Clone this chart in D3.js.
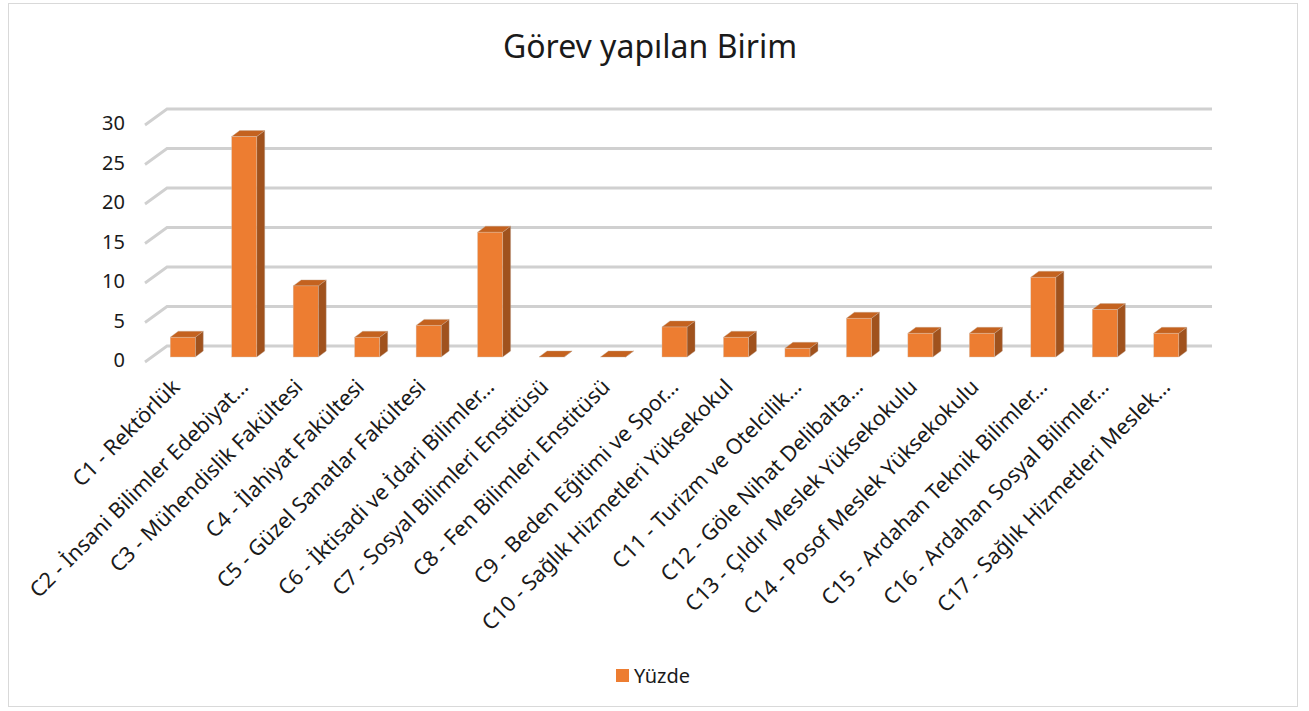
<!DOCTYPE html>
<html>
<head>
<meta charset="utf-8">
<script src="https://cdn.jsdelivr.net/npm/d3@7"></script>
<style>
  body { margin: 0; background: #fff; }
  svg { display: block; }
</style>
</head>
<body>
<script>
const categories = [
  "C1 - Rektörlük",
  "C2 - İnsani Bilimler Edebiyat…",
  "C3 - Mühendislik Fakültesi",
  "C4 - İlahiyat Fakültesi",
  "C5 - Güzel Sanatlar Fakültesi",
  "C6 - İktisadi ve İdari Bilimler…",
  "C7 - Sosyal Bilimleri Enstitüsü",
  "C8 - Fen Bilimleri Enstitüsü",
  "C9 - Beden Eğitimi ve Spor…",
  "C10 - Sağlık Hizmetleri Yüksekokul",
  "C11 - Turizm ve Otelcilik…",
  "C12 - Göle Nihat Delibalta…",
  "C13 - Çıldır Meslek Yüksekokulu",
  "C14 - Posof Meslek Yüksekokulu",
  "C15 - Ardahan Teknik Bilimler…",
  "C16 - Ardahan Sosyal Bilimler…",
  "C17 - Sağlık Hizmetleri Meslek…"
];
const yuzde = [2.5, 27.9, 9, 2.5, 4, 15.8, 0, 0, 3.8, 2.5, 1.1, 4.9, 3, 3, 10.1, 6, 3];
const yTicks = [0, 5, 10, 15, 20, 25, 30];
const seriesName = "Yüzde";
const title = "Görev yapılan Birim";

const width = 1309, height = 711;
const font = "'Noto Sans', 'Open Sans', sans-serif";

// oblique 3D: front plane, depth of floor, depth of bars
const depth = [22, -16];
const barPlane = [7, -5];
const barDepth = [8, -6];

const x = d3.scaleBand()
    .domain(categories)
    .range([145, 1190])
    .paddingInner(0.593)
    .paddingOuter(0.2965);

const y = d3.scaleLinear()
    .domain([0, 30])
    .range([362, 125]);

const svg = d3.select("body").append("svg")
    .attr("width", width)
    .attr("height", height)
    .attr("viewBox", [0, 0, width, height]);

svg.append("rect")
    .attr("x", 8.5).attr("y", 3.5)
    .attr("width", 1289).attr("height", 703)
    .attr("fill", "#fff")
    .attr("stroke", "#d9d9d9");

svg.append("text")
    .attr("x", 650).attr("y", 58)
    .attr("text-anchor", "middle")
    .style("font", `32px ${font}`)
    .attr("fill", "#1a1a1a")
    .text(title);

// gridlines: diagonal on the side wall then along the back wall
svg.append("g")
    .attr("fill", "none")
    .attr("stroke", "#d0d0d0")
    .attr("stroke-width", 2.8)
  .selectAll("path")
  .data(yTicks)
  .join("path")
    .attr("d", d => {
      const x0 = x.range()[0], x1 = x.range()[1];
      return `M${x0},${y(d)}L${x0 + depth[0]},${y(d) + depth[1]}L${x1 + depth[0]},${y(d) + depth[1]}`;
    });

svg.append("g")
    .style("font", `20px ${font}`)
    .attr("fill", "#1a1a1a")
    .attr("text-anchor", "end")
  .selectAll("text")
  .data(yTicks)
  .join("text")
    .attr("x", 125)
    .attr("y", d => y(d) - 2)
    .attr("dy", "0.35em")
    .text(d => d);

// bars
const bars = svg.append("g")
  .selectAll("g")
  .data(categories.map((c, i) => [c, yuzde[i]]))
  .join("g");

const bx = c => x(c) + barPlane[0];
const by = v => y(v) + barPlane[1];
const bw = x.bandwidth();

bars.append("path")
    .attr("fill", "#a0521d")
    .attr("stroke", "#b8a090").attr("stroke-width", 0.4)
    .attr("d", ([c, v]) => {
      const r = bx(c) + bw;
      return `M${r},${by(0)}L${r + barDepth[0]},${by(0) + barDepth[1]}L${r + barDepth[0]},${by(v) + barDepth[1]}L${r},${by(v)}Z`;
    });

bars.append("path")
    .attr("fill", "#c4621f")
    .attr("stroke", "#c8a890").attr("stroke-width", 0.4)
    .attr("d", ([c, v]) => {
      const l = bx(c), t = by(v);
      return `M${l},${t}L${l + barDepth[0]},${t + barDepth[1]}L${l + bw + barDepth[0]},${t + barDepth[1]}L${l + bw},${t}Z`;
    });

bars.append("rect")
    .attr("fill", "#ed7d31")
    .attr("stroke", "#d8c0b0").attr("stroke-width", 0.4)
    .attr("x", ([c]) => bx(c))
    .attr("y", ([, v]) => by(v))
    .attr("width", bw)
    .attr("height", ([, v]) => by(0) - by(v));

// category labels (truncated ones sit a little further right, as in Excel)
svg.append("g")
    .style("font", `21.5px ${font}`)
    .attr("fill", "#1a1a1a")
    .attr("text-anchor", "end")
  .selectAll("text")
  .data(categories)
  .join("text")
    .attr("transform", c => `translate(${bx(c) + bw / 2 - 7 + (c.endsWith("…") ? 7 : 0)},383) rotate(-45)`)
    .attr("dy", "0.35em")
    .text(c => c);

// legend
const legend = svg.append("g").attr("transform", "translate(616,669)");
legend.append("rect")
    .attr("width", 13).attr("height", 13)
    .attr("fill", "#ed7d31");
legend.append("text")
    .attr("x", 18).attr("y", 6.5)
    .attr("dy", "0.35em")
    .style("font", `20px ${font}`)
    .attr("fill", "#1a1a1a")
    .text(seriesName);
</script>
</body>
</html>
